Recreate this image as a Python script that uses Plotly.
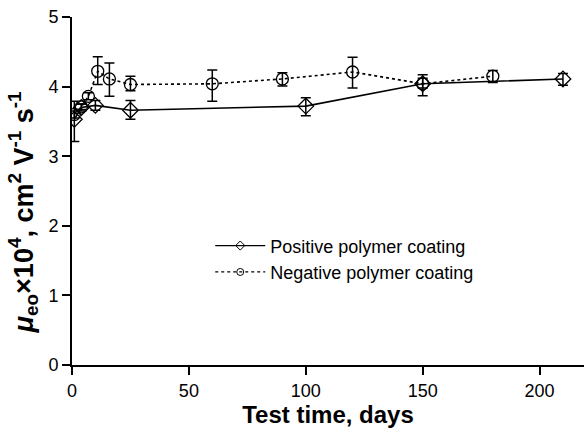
import plotly.graph_objects as go

# Positive polymer coating
pos_days = [1, 4, 10, 25, 100, 150, 210]
pos_mu = [3.53, 3.70, 3.73, 3.66, 3.72, 4.04, 4.11]
pos_err_plus = [0.26, 0.05, 0.07, 0.14, 0.12, 0.13, 0.08]
pos_err_minus = [0.32, 0.05, 0.07, 0.13, 0.14, 0.17, 0.09]

# Negative polymer coating
neg_days = [1, 4, 7, 11, 16, 25, 60, 90, 120, 150, 180]
neg_mu = [3.60, 3.71, 3.86, 4.22, 4.11, 4.03, 4.04, 4.11, 4.21, 4.04, 4.15]
neg_err_plus = [0.05, 0.04, 0.05, 0.21, 0.23, 0.12, 0.20, 0.09, 0.21, 0.08, 0.08]
neg_err_minus = [0.05, 0.04, 0.05, 0.19, 0.25, 0.09, 0.25, 0.10, 0.23, 0.06, 0.09]

x_ticks = [0, 50, 100, 150, 200]
y_ticks = [0, 1, 2, 3, 4, 5]

fig = go.Figure()
fig.add_trace(go.Scatter(
    x=pos_days, y=pos_mu, mode="lines+markers", name="Positive polymer coating",
    showlegend=False,
    line=dict(color="black", width=1.6),
    marker=dict(symbol="diamond-open", size=12, color="black", line=dict(width=1.3)),
    error_y=dict(type="data", array=pos_err_plus, arrayminus=pos_err_minus,
                 color="black", thickness=1.5, width=5),
))
fig.add_trace(go.Scatter(
    x=neg_days, y=neg_mu, mode="lines+markers", name="Negative polymer coating",
    showlegend=False,
    line=dict(color="black", width=1.6, dash="3px,3px"),
    marker=dict(symbol="circle-open", size=12, color="black", line=dict(width=1.3)),
    error_y=dict(type="data", array=neg_err_plus, arrayminus=neg_err_minus,
                 color="black", thickness=1.5, width=5),
))
# legend-only entries with small markers, as in the reference legend
fig.add_trace(go.Scatter(
    x=[None], y=[None], mode="lines+markers", name="Positive polymer coating",
    line=dict(color="black", width=1.2),
    marker=dict(symbol="diamond-open", size=7, color="black", line=dict(width=1)),
))
fig.add_trace(go.Scatter(
    x=[None], y=[None], mode="lines+markers", name="Negative polymer coating",
    line=dict(color="black", width=1.2, dash="3px,3px"),
    marker=dict(symbol="circle-open", size=7, color="black", line=dict(width=1)),
))

fig.update_layout(
    width=584, height=433,
    margin=dict(l=72, r=0, t=17, b=68),
    plot_bgcolor="white", paper_bgcolor="white",
    font=dict(family="Liberation Sans, Arial, sans-serif", color="black", size=18),
    showlegend=True,
    legend=dict(x=0.27, y=0.305, xanchor="left", yanchor="middle",
                font=dict(size=18), bgcolor="rgba(0,0,0,0)",
                itemwidth=50, tracegroupgap=0),
    xaxis=dict(range=[0, 219], tickvals=x_ticks, showgrid=False, zeroline=False,
               showline=True, linecolor="black", linewidth=2,
               ticks="outside", ticklen=8, tickwidth=1.5, tickcolor="black",
               tickfont=dict(size=18),
               title=dict(text="<b>Test time, days</b>", font=dict(size=24), standoff=4)),
    yaxis=dict(range=[0, 5], tickvals=y_ticks, showgrid=False, zeroline=False,
               showline=True, linecolor="black", linewidth=2,
               ticks="outside", ticklen=8, tickwidth=1.5, tickcolor="black",
               tickfont=dict(size=18)),
    annotations=[dict(
        text="<b><i>μ</i><sub>eo</sub>×10<sup>4</sup>, cm<sup>2</sup> V<sup>-1</sup> s<sup>-1</sup></b>",
        textangle=-90, font=dict(size=27, color="black"),
        xref="paper", yref="paper", x=-0.095, y=0.44,
        xanchor="center", yanchor="middle", showarrow=False,
    )],
)

fig.write_html("out.html")
